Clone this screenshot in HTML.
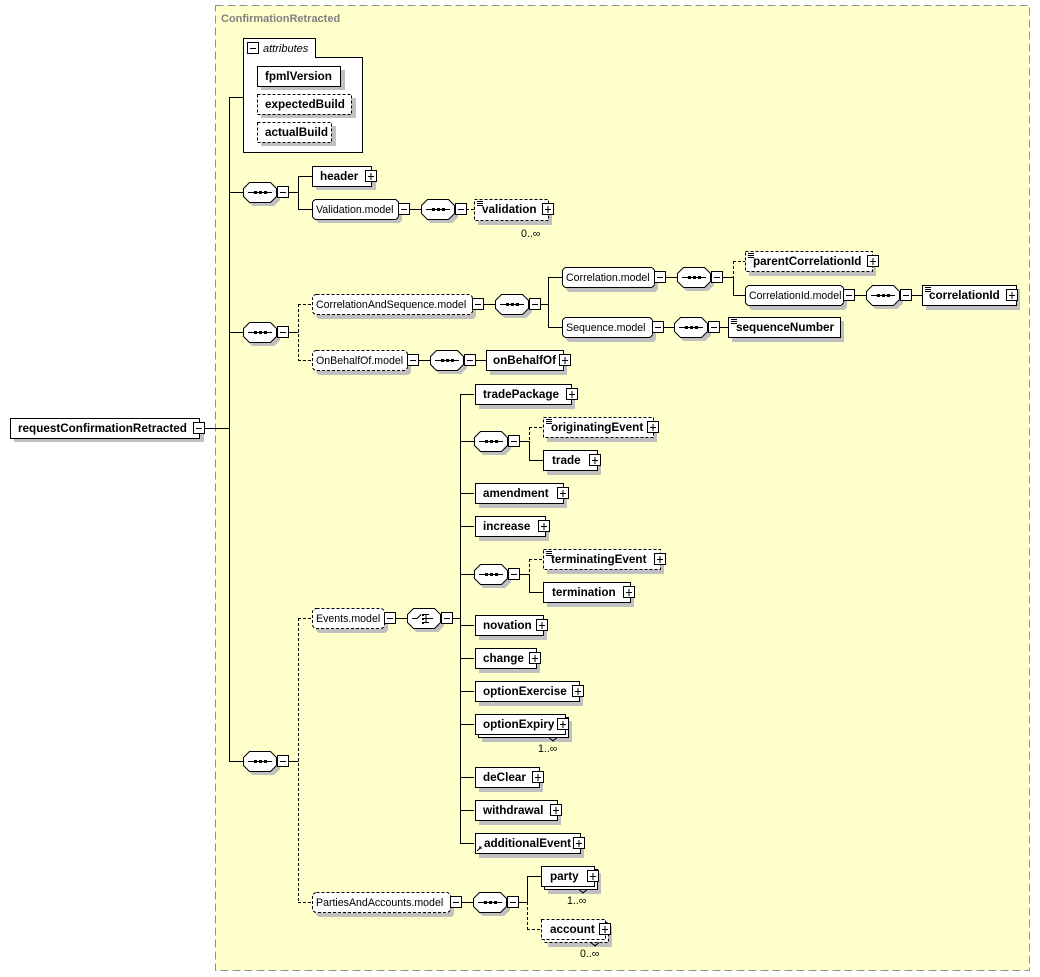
<!DOCTYPE html>
<html><head><meta charset="utf-8"><style>
html,body{margin:0;padding:0;background:#fff;}
svg{display:block;}
.b{font:bold 11.7px "Liberation Sans",sans-serif;fill:#000;}
.n{font:10.6px "Liberation Sans",sans-serif;fill:#000;}
.t{font:bold 11px "Liberation Sans",sans-serif;fill:#808080;}
.i{font:italic 11px "Liberation Sans",sans-serif;fill:#000;}
</style></head><body>
<svg width="1040" height="977" viewBox="0 0 1040 977" xmlns="http://www.w3.org/2000/svg" shape-rendering="crispEdges">
<defs>
<g id="mi"><rect x="0.5" y="-5.5" width="11" height="11" fill="#fff" stroke="#000"/><line x1="3" y1="0.5" x2="9" y2="0.5" stroke="#000"/></g>
<g id="pl"><rect x="0.5" y="-5.5" width="11" height="11" fill="#fff" stroke="#000"/><line x1="3" y1="0.5" x2="9" y2="0.5" stroke="#000"/><line x1="6" y1="-3" x2="6" y2="4" stroke="#000"/></g>
<g id="sq"><polygon points="9,-6 31,-6 37,0 37,8 31,14 9,14 3,8 3,0" fill="#c0c0c0"/><polygon points="6.5,-9.5 27.5,-9.5 33.5,-3.5 33.5,4.5 27.5,10.5 6.5,10.5 0.5,4.5 0.5,-3.5" fill="#fff" stroke="#000" shape-rendering="auto"/><line x1="5" y1="0.5" x2="29" y2="0.5" stroke="#000"/><rect x="11" y="-1" width="3" height="3"/><rect x="16" y="-1" width="3" height="3"/><rect x="21" y="-1" width="3" height="3"/></g>
<g id="ch"><polygon points="9,-6 31,-6 37,0 37,8 31,14 9,14 3,8 3,0" fill="#c0c0c0"/><polygon points="6.5,-9.5 27.5,-9.5 33.5,-3.5 33.5,4.5 27.5,10.5 6.5,10.5 0.5,4.5 0.5,-3.5" fill="#fff" stroke="#000" shape-rendering="auto"/><path d="M5 0.5H10L14 -3.5M16 -3.5H19V4.5H16M16 0.5H26M19 -3.5H22M19 4.5H22" stroke="#000" fill="none"/><rect x="15" y="-4" width="2" height="2"/><rect x="15" y="0" width="2" height="2"/><rect x="15" y="4" width="2" height="2"/></g>
<g id="doc"><path d="M3 -7.5H9M3 -5.5H9M3 -3.5H9" stroke="#000"/></g>
</defs>
<rect x="215.5" y="5.5" width="814" height="965" fill="#ffffcc" stroke="#909090" stroke-dasharray="8,4"/>
<text class="t" x="221" y="22">ConfirmationRetracted</text>

<g stroke="#000" fill="none">
<path d="M200 428.5H229.5M229.5 97V761M229 97.5H243M229 192.5H244M229 332.5H244M229 761.5H244"/>
<path d="M289 192.5H298.5M298.5 176V209M298 176.5H312M298 209.5H312M409 209.5H421"/>
<path d="M466 209.5H474" stroke-dasharray="3,2"/>
<path d="M289 332.5H298.5"/>
<path d="M298.5 304V360M298 304.5H312M298 360.5H312" stroke-dasharray="3,2"/>
<path d="M483 304.5H495M540 304.5H548.5M548.5 277V327M548 277.5H562M548 327.5H562M665 277.5H677M722 277.5H733.5M733.5 277V295M733 295.5H745M854 295.5H866M911 295.5H922M663 327.5H674M719 327.5H728M418 360.5H430M475 360.5H486"/>
<path d="M733.5 261V277M733 261.5H745" stroke-dasharray="3,2"/>
<path d="M289 761.5H298.5"/>
<path d="M298.5 618V902M298 618.5H312M298 902.5H312" stroke-dasharray="3,2"/>
<path d="M395 618.5H407M452 618.5H460.5M460.5 394V843M460 394.5H474M460 441.5H474M460 493.5H474M460 526.5H474M460 574.5H474M460 625.5H474M460 658.5H474M460 691.5H474M460 724.5H474M460 777.5H474M460 810.5H474M460 843.5H474"/>
<path d="M519 441.5H529.5M529.5 441V460M529 460.5H543M519 574.5H529.5M529.5 574V592M529 592.5H543"/>
<path d="M529.5 427V441M529 427.5H543M529.5 559V574M529 559.5H543" stroke-dasharray="3,2"/>
<path d="M461 902.5H473M518 902.5H527.5M527.5 876V902M527 876.5H541"/>
<path d="M527.5 902V929M527 929.5H541" stroke-dasharray="3,2"/>
</g>

<!-- root -->
<rect x="14" y="422" width="190" height="20" fill="#c0c0c0"/><rect x="10.5" y="418.5" width="189" height="20" fill="#fff" stroke="#000"/>
<text class="b" x="18" y="432">requestConfirmationRetracted</text><use href="#mi" x="193" y="428"/>

<!-- attributes -->
<rect x="243.5" y="57.5" width="119" height="95" fill="#fff" stroke="#000"/>
<rect x="243.5" y="38.5" width="72" height="19" fill="#fff" stroke="#000"/><rect x="244" y="57" width="71" height="2" fill="#fff"/>
<use href="#mi" x="247" y="48"/>
<text class="i" x="263" y="52">attributes</text>
<rect x="261" y="70" width="84" height="20" fill="#c0c0c0"/><rect x="257.5" y="66.5" width="83" height="20" fill="#fff" stroke="#000"/><text class="b" x="265" y="80">fpmlVersion</text>
<rect x="261" y="98" width="95" height="20" fill="#c0c0c0"/><rect x="257.5" y="94.5" width="94" height="20" fill="#fff" stroke="#000" stroke-dasharray="3,2"/><text class="b" x="265" y="108">expectedBuild</text>
<rect x="261" y="126" width="75" height="20" fill="#c0c0c0"/><rect x="257.5" y="122.5" width="74" height="20" fill="#fff" stroke="#000" stroke-dasharray="3,2"/><text class="b" x="265" y="136">actualBuild</text>

<!-- seq1 -->
<use href="#sq" x="243" y="192"/><use href="#mi" x="277" y="192"/>
<rect x="316" y="170" width="60" height="20" fill="#c0c0c0"/><rect x="312.5" y="166.5" width="59" height="20" fill="#fff" stroke="#000"/><text class="b" x="320" y="180">header</text><use href="#pl" x="365" y="176"/>
<rect x="316" y="203" width="86" height="20" rx="4" fill="#c0c0c0"/><rect x="312.5" y="199.5" width="86" height="20" rx="4" fill="#fff" stroke="#000"/><text class="n" x="316" y="213">Validation.model</text><use href="#mi" x="398" y="209"/>
<use href="#sq" x="421" y="209"/><use href="#mi" x="455" y="209"/>
<rect x="478" y="203" width="74" height="22" fill="#c0c0c0"/><rect x="474.5" y="199.5" width="74" height="21" fill="#fff" stroke="#000" stroke-dasharray="3,2"/><use href="#doc" x="474" y="209"/><text class="b" x="482" y="213">validation</text><use href="#pl" x="542" y="209"/>
<text class="n" x="521" y="237">0..∞</text>

<!-- seq2 -->
<use href="#sq" x="243" y="332"/><use href="#mi" x="277" y="332"/>
<rect x="316" y="298" width="160" height="21" rx="4" fill="#c0c0c0"/><rect x="312.5" y="294.5" width="160" height="20" rx="4" fill="#fff" stroke="#000" stroke-dasharray="3,2"/><text class="n" x="316" y="308">CorrelationAndSequence.model</text><use href="#mi" x="472" y="304"/>
<use href="#sq" x="495" y="304"/><use href="#mi" x="529" y="304"/>
<rect x="566" y="271" width="92" height="21" rx="4" fill="#c0c0c0"/><rect x="562.5" y="267.5" width="92" height="20" rx="4" fill="#fff" stroke="#000"/><text class="n" x="566" y="281">Correlation.model</text><use href="#mi" x="654" y="277"/>
<use href="#sq" x="677" y="277"/><use href="#mi" x="711" y="277"/>
<rect x="749" y="255" width="127" height="21" fill="#c0c0c0"/><rect x="745.5" y="251.5" width="127" height="20" fill="#fff" stroke="#000" stroke-dasharray="3,2"/><use href="#doc" x="745" y="261"/><text class="b" x="753" y="265">parentCorrelationId</text><use href="#pl" x="867" y="261"/>
<rect x="749" y="289" width="98" height="21" rx="4" fill="#c0c0c0"/><rect x="745.5" y="285.5" width="98" height="20" rx="4" fill="#fff" stroke="#000"/><text class="n" x="749" y="299">CorrelationId.model</text><use href="#mi" x="843" y="295"/>
<use href="#sq" x="866" y="295"/><use href="#mi" x="900" y="295"/>
<rect x="926" y="289" width="94" height="21" fill="#c0c0c0"/><rect x="922.5" y="285.5" width="94" height="20" fill="#fff" stroke="#000"/><use href="#doc" x="922" y="295"/><text class="b" x="929" y="299">correlationId</text><use href="#pl" x="1006" y="295"/>
<rect x="566" y="321" width="90" height="21" rx="4" fill="#c0c0c0"/><rect x="562.5" y="317.5" width="90" height="20" rx="4" fill="#fff" stroke="#000"/><text class="n" x="566" y="331">Sequence.model</text><use href="#mi" x="652" y="327"/>
<use href="#sq" x="674" y="327"/><use href="#mi" x="708" y="327"/>
<rect x="732" y="321" width="112" height="21" fill="#c0c0c0"/><rect x="728.5" y="317.5" width="112" height="20" fill="#fff" stroke="#000"/><use href="#doc" x="728" y="327"/><text class="b" x="736" y="331">sequenceNumber</text>
<rect x="316" y="354" width="95" height="21" rx="4" fill="#c0c0c0"/><rect x="312.5" y="350.5" width="95" height="20" rx="4" fill="#fff" stroke="#000" stroke-dasharray="3,2"/><text class="n" x="316" y="364">OnBehalfOf.model</text><use href="#mi" x="407" y="360"/>
<use href="#sq" x="430" y="360"/><use href="#mi" x="464" y="360"/>
<rect x="490" y="354" width="77" height="21" fill="#c0c0c0"/><rect x="486.5" y="350.5" width="77" height="20" fill="#fff" stroke="#000"/><text class="b" x="493" y="364">onBehalfOf</text><use href="#pl" x="559" y="360"/>

<!-- seq3 -->
<use href="#sq" x="243" y="761"/><use href="#mi" x="277" y="761"/>
<rect x="316" y="612" width="72" height="21" rx="4" fill="#c0c0c0"/><rect x="312.5" y="608.5" width="72" height="20" rx="4" fill="#fff" stroke="#000" stroke-dasharray="3,2"/><text class="n" x="316" y="622">Events.model</text><use href="#mi" x="384" y="618"/>
<use href="#ch" x="407" y="618"/><use href="#mi" x="441" y="618"/>

<rect x="479" y="388" width="96" height="21" fill="#c0c0c0"/><rect x="475.5" y="384.5" width="96" height="20" fill="#fff" stroke="#000"/><text class="b" x="483" y="398">tradePackage</text><use href="#pl" x="566" y="394"/>
<use href="#sq" x="474" y="441"/><use href="#mi" x="508" y="441"/>
<rect x="547" y="421" width="110" height="21" fill="#c0c0c0"/><rect x="543.5" y="417.5" width="110" height="20" fill="#fff" stroke="#000" stroke-dasharray="3,2"/><use href="#doc" x="543" y="427"/><text class="b" x="551" y="431">originatingEvent</text><use href="#pl" x="647" y="427"/>
<rect x="547" y="454" width="54" height="21" fill="#c0c0c0"/><rect x="543.5" y="450.5" width="54" height="20" fill="#fff" stroke="#000"/><text class="b" x="552" y="464">trade</text><use href="#pl" x="589" y="460"/>
<rect x="479" y="487" width="88" height="21" fill="#c0c0c0"/><rect x="475.5" y="483.5" width="88" height="20" fill="#fff" stroke="#000"/><text class="b" x="483" y="497">amendment</text><use href="#pl" x="557" y="493"/>
<rect x="479" y="520" width="70" height="21" fill="#c0c0c0"/><rect x="475.5" y="516.5" width="70" height="20" fill="#fff" stroke="#000"/><text class="b" x="483" y="530">increase</text><use href="#pl" x="538" y="526"/>
<use href="#sq" x="474" y="574"/><use href="#mi" x="508" y="574"/>
<rect x="547" y="553" width="117" height="21" fill="#c0c0c0"/><rect x="543.5" y="549.5" width="117" height="20" fill="#fff" stroke="#000" stroke-dasharray="3,2"/><use href="#doc" x="543" y="559"/><text class="b" x="551" y="563">terminatingEvent</text><use href="#pl" x="654" y="559"/>
<rect x="547" y="586" width="87" height="21" fill="#c0c0c0"/><rect x="543.5" y="582.5" width="87" height="20" fill="#fff" stroke="#000"/><text class="b" x="552" y="596">termination</text><use href="#pl" x="623" y="592"/>
<rect x="479" y="619" width="68" height="21" fill="#c0c0c0"/><rect x="475.5" y="615.5" width="68" height="20" fill="#fff" stroke="#000"/><text class="b" x="483" y="629">novation</text><use href="#pl" x="536" y="625"/>
<rect x="479" y="652" width="61" height="21" fill="#c0c0c0"/><rect x="475.5" y="648.5" width="61" height="20" fill="#fff" stroke="#000"/><text class="b" x="483" y="662">change</text><use href="#pl" x="529" y="658"/>
<rect x="479" y="685" width="104" height="21" fill="#c0c0c0"/><rect x="475.5" y="681.5" width="104" height="20" fill="#fff" stroke="#000"/><text class="b" x="483" y="695">optionExercise</text><use href="#pl" x="572" y="691"/>
<rect x="482" y="721" width="90" height="21" fill="#c0c0c0"/><rect x="478.5" y="717.5" width="90" height="20" fill="#fff" stroke="#000"/><rect x="475.5" y="714.5" width="90" height="20" fill="#fff" stroke="#000"/><text class="b" x="483" y="728">optionExpiry</text><use href="#pl" x="557" y="724"/><path d="M549 737.5L553 741L557 737.5" stroke="#000" fill="none"/>
<text class="n" x="538" y="752">1..∞</text>
<rect x="479" y="771" width="64" height="21" fill="#c0c0c0"/><rect x="475.5" y="767.5" width="64" height="20" fill="#fff" stroke="#000"/><text class="b" x="483" y="781">deClear</text><use href="#pl" x="532" y="777"/>
<rect x="479" y="804" width="82" height="21" fill="#c0c0c0"/><rect x="475.5" y="800.5" width="82" height="20" fill="#fff" stroke="#000"/><text class="b" x="483" y="814">withdrawal</text><use href="#pl" x="550" y="810"/>
<rect x="479" y="837" width="105" height="21" fill="#c0c0c0"/><rect x="475.5" y="833.5" width="105" height="20" fill="#fff" stroke="#000"/><path d="M477 851L481 847M479 847H481V849" stroke="#000" fill="none"/><text class="b" x="484" y="847">additionalEvent</text><use href="#pl" x="573" y="843"/>

<rect x="316" y="896" width="138" height="21" rx="4" fill="#c0c0c0"/><rect x="312.5" y="892.5" width="138" height="20" rx="4" fill="#fff" stroke="#000" stroke-dasharray="3,2"/><text class="n" x="316" y="906">PartiesAndAccounts.model</text><use href="#mi" x="450" y="902"/>
<use href="#sq" x="473" y="902"/><use href="#mi" x="507" y="902"/>
<rect x="548" y="873" width="53" height="21" fill="#c0c0c0"/><rect x="544.5" y="869.5" width="53" height="20" fill="#fff" stroke="#000"/><rect x="541.5" y="866.5" width="53" height="20" fill="#fff" stroke="#000"/><text class="b" x="550" y="880">party</text><use href="#pl" x="587" y="876"/><path d="M579 889.5L583 893L587 889.5" stroke="#000" fill="none"/>
<text class="n" x="567" y="904">1..∞</text>
<rect x="548" y="926" width="64" height="21" fill="#c0c0c0"/><rect x="544.5" y="922.5" width="64" height="20" fill="#fff" stroke="#000" stroke-dasharray="3,2"/><rect x="541.5" y="919.5" width="64" height="20" fill="#fff" stroke="#000" stroke-dasharray="3,2"/><text class="b" x="550" y="933">account</text><use href="#pl" x="599" y="929"/><path d="M591 942.5L595 946L599 942.5" stroke="#000" fill="none"/>
<text class="n" x="580" y="957">0..∞</text>
</svg>
</body></html>
